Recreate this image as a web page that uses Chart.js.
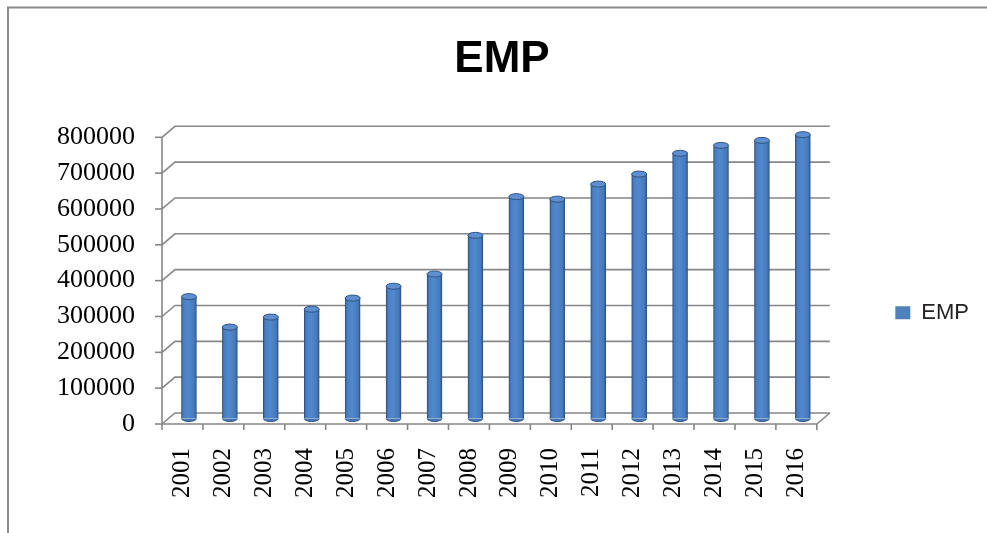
<!DOCTYPE html>
<html>
<head>
<meta charset="utf-8">
<script src="https://cdn.jsdelivr.net/npm/chart.js@4.4.1/dist/chart.umd.min.js"></script>
<style>
  html, body { margin: 0; padding: 0; background: #fff; }
  #wrap { width: 987px; height: 533px; }
</style>
</head>
<body>
<div id="wrap"><canvas id="myChart" width="987" height="533"></canvas></div>
<script>
let years = ["2001", "2002", "2003", "2004", "2005", "2006", "2007", "2008",
             "2009", "2010", "2011", "2012", "2013", "2014", "2015", "2016"];
let empValues = [340000, 255000, 283000, 305000, 336000, 369000, 403000, 511000,
                 619000, 612000, 654000, 682000, 740000, 762000, 776000, 792000];
let yTicks = [0, 100000, 200000, 300000, 400000, 500000, 600000, 700000, 800000];

// fake depth of the 3d box: bars stand half way between front and back
const dx = 6.5;
const dy = 5.5;
const blue = "#4f81bd";

const frame3d = {
  id: "frame3d",
  beforeDraw(chart) {
    const c = chart.ctx;
    c.save();
    c.strokeStyle = "#8a8a8a";
    c.lineWidth = 2;
    c.beginPath();
    c.moveTo(8, 533);
    c.lineTo(8, 7.5);
    c.lineTo(987, 7.5);
    c.stroke();
    c.restore();
  },
  beforeDatasetsDraw(chart) {
    const c = chart.ctx;
    const ys = chart.scales.y;
    const xs = chart.scales.x;
    const ca = chart.chartArea;
    c.save();
    c.strokeStyle = "#878787";
    c.lineWidth = 1.6;
    ys.ticks.forEach((t) => {
      const py = ys.getPixelForValue(t.value);
      c.beginPath();
      c.moveTo(ca.left - dx, py + dy);
      c.lineTo(ca.left + dx, py - dy);
      c.lineTo(ca.right + dx, py - dy);
      c.stroke();
      c.beginPath();
      c.moveTo(ca.left - dx - 7, py + dy);
      c.lineTo(ca.left - dx, py + dy);
      c.stroke();
    });
    const y0 = ys.getPixelForValue(0);
    const yTop = ys.getPixelForValue(yTicks[yTicks.length - 1]);
    c.beginPath();
    c.moveTo(ca.left - dx, yTop + dy);
    c.lineTo(ca.left - dx, y0 + dy);
    c.lineTo(ca.right - dx, y0 + dy);
    c.lineTo(ca.right + dx, y0 - dy);
    c.stroke();
    const half = (xs.getPixelForValue(1) - xs.getPixelForValue(0)) / 2;
    for (let i = 0; i <= years.length; i++) {
      const px = xs.getPixelForValue(i) - half - dx;
      c.beginPath();
      c.moveTo(px, y0 + dy);
      c.lineTo(px, y0 + dy + 6);
      c.stroke();
    }
    c.restore();
  },
  afterDatasetsDraw(chart) {
    const c = chart.ctx;
    chart.getDatasetMeta(0).data.forEach((bar) => {
      const rx = bar.width / 2;
      c.save();
      c.lineWidth = 1;
      c.strokeStyle = "#2f5383";
      c.beginPath();
      c.ellipse(bar.x, bar.base, rx, 3, 0, 0, Math.PI);
      c.fillStyle = "#4677b6";
      c.fill();
      c.stroke();
      c.beginPath();
      c.ellipse(bar.x, bar.y, rx, 3, 0, 0, Math.PI * 2);
      c.fillStyle = "#5e8fd0";
      c.fill();
      c.stroke();
      c.restore();
    });
  }
};

const barFill = (context) => {
  if (context.type !== "data") return blue;
  const xs = context.chart.scales.x;
  const cx = xs ? xs.getPixelForValue(context.dataIndex) : NaN;
  if (!isFinite(cx)) return blue;
  const g = context.chart.ctx.createLinearGradient(cx - 7.5, 0, cx + 7.5, 0);
  g.addColorStop(0, "#35609a");
  g.addColorStop(0.15, "#4a7fc2");
  g.addColorStop(0.45, "#5189cd");
  g.addColorStop(0.85, "#4679bb");
  g.addColorStop(1, "#2f5689");
  return g;
};

const ctx = document.getElementById("myChart");

new Chart(ctx, {
  type: "bar",
  data: {
    labels: years,
    datasets: [
      {
        label: "EMP",
        data: empValues,
        backgroundColor: barFill,
        borderColor: "#2f5383",
        borderWidth: { left: 1, right: 1, top: 0, bottom: 0 },
        borderSkipped: false,
        barThickness: 15
      }
    ]
  },
  options: {
    responsive: false,
    animation: false,
    devicePixelRatio: 1,
    layout: { padding: { left: 25, right: 8, top: 0, bottom: 0 } },
    scales: {
      x: {
        grid: { display: false, drawTicks: false },
        border: { display: false },
        ticks: {
          autoSkip: false,
          minRotation: 90,
          maxRotation: 90,
          padding: 29.5,
          labelOffset: -dx,
          color: "#000",
          font: { family: "Liberation Serif", size: 25 }
        },
        afterFit(scale) { scale.height = 114.5; }
      },
      y: {
        min: 0,
        max: 800000,
        grid: { display: false, drawTicks: false },
        border: { display: false },
        afterBuildTicks(scale) {
          scale.ticks = yTicks.map((v) => ({ value: v }));
        },
        ticks: {
          padding: 33.5,
          labelOffset: dy,
          color: "#000",
          font: { family: "Liberation Serif", size: 26 },
          callback: (value) => String(value)
        },
        afterFit(scale) { scale.width = 143.5; }
      }
    },
    plugins: {
      title: {
        display: true,
        text: "EMP",
        color: "#000",
        font: { family: "Liberation Sans", size: 44, weight: "bold" },
        padding: { top: 33, bottom: 46 }
      },
      legend: {
        position: "right",
        align: "center",
        title: { display: true, text: "", padding: { top: 78, bottom: 0 }, font: { size: 12 } },
        labels: {
          boxWidth: 15,
          boxHeight: 13,
          padding: 72,
          color: "#222",
          font: { family: "Liberation Sans", size: 22 },
          generateLabels(chart) {
            const items = Chart.defaults.plugins.legend.labels.generateLabels(chart);
            items.forEach((it) => {
              it.fillStyle = blue;
              it.strokeStyle = blue;
              it.lineWidth = 0;
            });
            return items;
          }
        }
      },
      tooltip: { enabled: false }
    }
  },
  plugins: [frame3d]
});
</script>
</body>
</html>
